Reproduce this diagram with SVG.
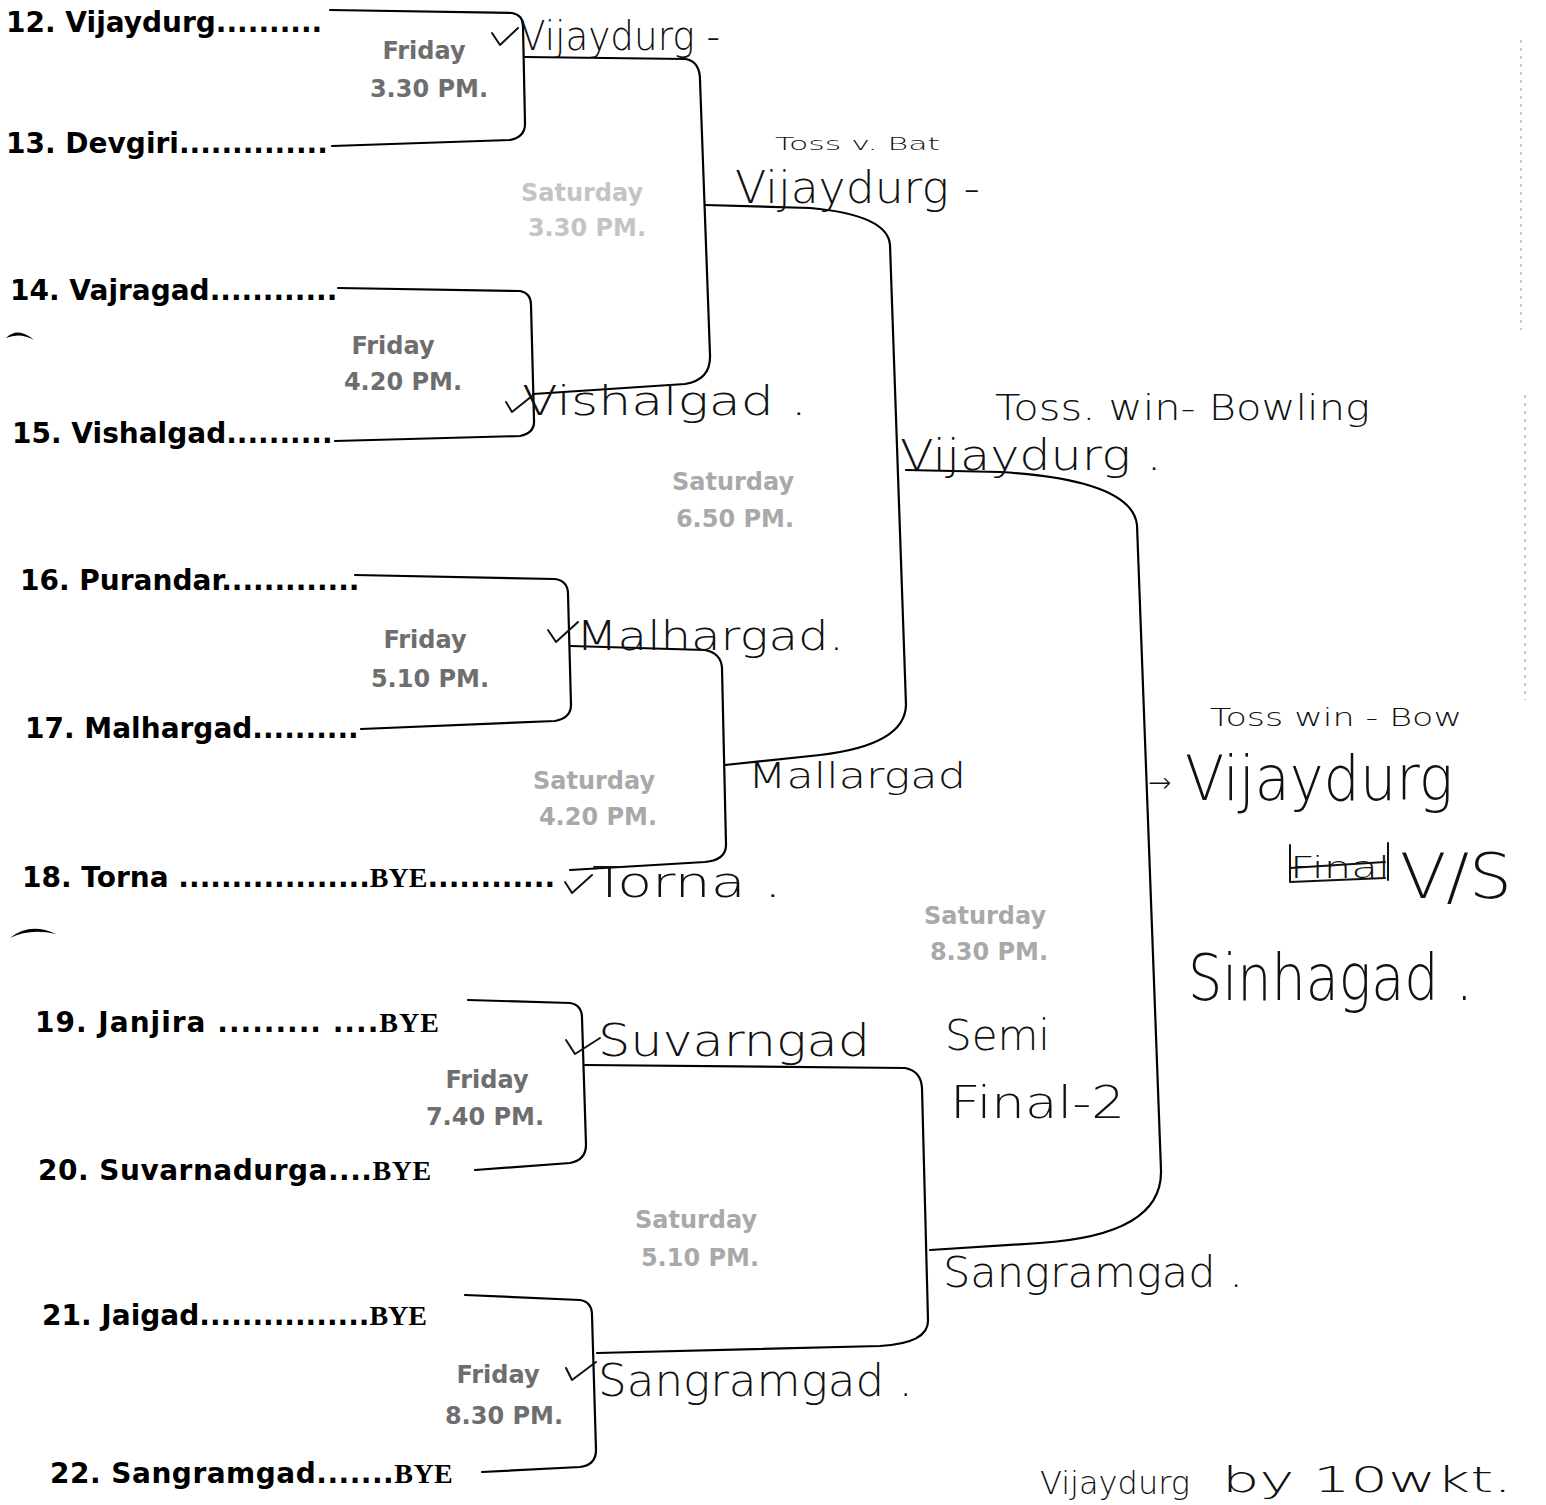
<svg xmlns="http://www.w3.org/2000/svg" width="1546" height="1505" viewBox="0 0 1546 1505">
<style>
.team{font-family:"DejaVu Sans","Liberation Sans",sans-serif;font-weight:bold;font-size:28px;fill:#000}
.bye{font-family:"Liberation Serif","DejaVu Serif",serif;font-weight:bold;font-size:28px}
.fri{font-family:"DejaVu Sans","Liberation Sans",sans-serif;font-weight:bold;font-size:24px;fill:#6e6e6e;text-anchor:middle}
.sat{font-family:"DejaVu Sans","Liberation Sans",sans-serif;font-weight:bold;font-size:24px;fill:#a9a9a9;text-anchor:middle}
.faint{fill:#c4c4c4}
.hw{font-family:"DejaVu Sans","Liberation Sans",sans-serif;font-weight:200;fill:#111}
.br{fill:none;stroke:#000;stroke-width:2.2;stroke-linecap:round;stroke-linejoin:round}
.tick{fill:none;stroke:#111;stroke-width:2;stroke-linecap:round;stroke-linejoin:round}
</style>
<rect width="1546" height="1505" fill="#fff"/>

<g id="connectors">
<path class="br" d="M330,10 L512,13 Q523,15 523,26 L525,124 Q525,137 510,140 L332,146"/>
<path class="br" d="M525,57 L686,59 Q700,62 700,80 L710,355 Q711,380 685,384 L533,394"/>
<path class="br" d="M338,288 L520,291 Q531,293 531,305 L534,420 Q535,433 520,436 L335,441"/>
<path class="br" d="M705,205 L810,208 Q888,215 890,245 L906,705 Q905,745 820,755 L725,765"/>
<path class="br" d="M355,575 L555,579 Q568,581 568,594 L571,705 Q571,718 555,721 L361,729"/>
<path class="br" d="M571,646 L705,650 Q721,653 722,668 L726,845 Q726,860 705,862 L570,870"/>
<path class="br" d="M906,470 L1000,472 Q1132,480 1137,525 L1161,1170 Q1163,1235 1040,1243 L930,1250"/>
<path class="br" d="M468,1000 L570,1003 Q582,1005 582,1018 L586,1145 Q586,1160 570,1163 L475,1170"/>
<path class="br" d="M585,1065 L905,1068 Q921,1071 922,1088 L928,1320 Q929,1343 880,1346 L597,1353"/>
<path class="br" d="M465,1295 L580,1300 Q592,1302 592,1315 L596,1450 Q596,1465 580,1467 L482,1472"/>
</g>

<g id="teams">
<g id="t12"><text class="team" x="6" y="32">12. Vijaydurg..........</text></g>
<g id="t13"><text class="team" x="6" y="153">13. Devgiri..............</text></g>
<g id="t14"><text class="team" x="10" y="300">14. Vajragad............</text></g>
<g id="t15"><text class="team" x="12" y="443">15. Vishalgad..........</text></g>
<g id="t16"><text class="team" x="20" y="590">16. Purandar.............</text></g>
<g id="t17"><text class="team" x="25" y="738">17. Malhargad..........</text></g>
<g id="t18"><text class="team" x="22" y="887">18. Torna ..................<tspan class="bye">BYE</tspan>............</text></g>
<g id="t19"><text class="team" x="35" y="1032" letter-spacing="1">19. Janjira ......... ....<tspan class="bye">BYE</tspan></text></g>
<g id="t20"><text class="team" x="38" y="1180" letter-spacing="0.5">20. Suvarnadurga....<tspan class="bye">BYE</tspan></text></g>
<g id="t21"><text class="team" x="42" y="1325">21. Jaigad................<tspan class="bye">BYE</tspan></text></g>
<g id="t22"><text class="team" x="50" y="1483" letter-spacing="0.5">22. Sangramgad.......<tspan class="bye">BYE</tspan></text></g>
</g>

<g id="matches">
<g id="m-fri-330"><text class="fri" x="424" y="59">Friday</text><text class="fri" x="429" y="97">3.30 PM.</text></g>
<g id="m-sat-330"><text class="sat faint" x="582" y="201">Saturday</text><text class="sat faint" x="587" y="236">3.30 PM.</text></g>
<g id="m-fri-420"><text class="fri" x="393" y="354">Friday</text><text class="fri" x="403" y="390">4.20 PM.</text></g>
<g id="m-sat-650"><text class="sat" x="733" y="490">Saturday</text><text class="sat" x="735" y="527">6.50 PM.</text></g>
<g id="m-fri-510"><text class="fri" x="425" y="648">Friday</text><text class="fri" x="430" y="687">5.10 PM.</text></g>
<g id="m-sat-420"><text class="sat" x="594" y="789">Saturday</text><text class="sat" x="598" y="825">4.20 PM.</text></g>
<g id="m-sat-830"><text class="sat" x="985" y="924">Saturday</text><text class="sat" x="989" y="960">8.30 PM.</text></g>
<g id="m-fri-740"><text class="fri" x="487" y="1088">Friday</text><text class="fri" x="485" y="1125">7.40 PM.</text></g>
<g id="m-sat-510"><text class="sat" x="696" y="1228">Saturday</text><text class="sat" x="700" y="1266">5.10 PM.</text></g>
<g id="m-fri-830"><text class="fri" x="498" y="1383">Friday</text><text class="fri" x="504" y="1424">8.30 PM.</text></g>
</g>

<g id="annotations">
<path class="tick" d="M492,33 L500,45 L518,28"/>
<text class="hw" x="520" y="50" font-size="40" textLength="200" lengthAdjust="spacingAndGlyphs">Vijaydurg -</text>
<text class="hw" x="775" y="150" font-size="18" textLength="165" lengthAdjust="spacingAndGlyphs">Toss v. Bat</text>
<text class="hw" x="735" y="203" font-size="44" textLength="245" lengthAdjust="spacingAndGlyphs">Vijaydurg -</text>
<path class="tick" d="M506,402 L512,412 L532,396"/>
<text class="hw" x="522" y="415" font-size="40" textLength="285" lengthAdjust="spacingAndGlyphs">Vishalgad .</text>
<text class="hw" x="995" y="420" font-size="36" textLength="375" lengthAdjust="spacingAndGlyphs">Toss. win- Bowling</text>
<text class="hw" x="900" y="470" font-size="42" textLength="262" lengthAdjust="spacingAndGlyphs">Vijaydurg .</text>
<path class="tick" d="M548,630 L556,642 L578,622"/>
<text class="hw" x="576" y="650" font-size="40" textLength="268" lengthAdjust="spacingAndGlyphs">Malhargad.</text>
<text class="hw" x="748" y="788" font-size="36" textLength="218" lengthAdjust="spacingAndGlyphs">Mallargad</text>
<path class="tick" d="M565,882 L572,893 L592,875"/>
<text class="hw" x="592" y="897" font-size="42" textLength="190" lengthAdjust="spacingAndGlyphs">Torna .</text>
<text class="hw" x="1210" y="726" font-size="24" textLength="252" lengthAdjust="spacingAndGlyphs">Toss win - Bow</text>
<text class="hw" x="1148" y="792" font-size="28">→</text>
<text class="hw" x="1185" y="800" font-size="62" textLength="268" lengthAdjust="spacingAndGlyphs">Vijaydurg</text>
<g id="struck">
<text class="hw" x="1290" y="878" font-size="30" textLength="100" lengthAdjust="spacingAndGlyphs">Final</text>
<path class="tick" d="M1290,845 L1290,882 M1290,868 L1385,862 M1290,882 L1385,878 M1388,843 L1388,880"/>
</g>
<text class="hw" x="1400" y="898" font-size="62" textLength="112" lengthAdjust="spacingAndGlyphs">V/S</text>
<text class="hw" x="1188" y="1000" font-size="64" textLength="285" lengthAdjust="spacingAndGlyphs">Sinhagad .</text>
<text class="hw" x="945" y="1050" font-size="42" textLength="105" lengthAdjust="spacingAndGlyphs">Semi</text>
<text class="hw" x="950" y="1118" font-size="44" textLength="175" lengthAdjust="spacingAndGlyphs">Final-2</text>
<path class="tick" d="M566,1040 L575,1054 L600,1038"/>
<text class="hw" x="598" y="1056" font-size="44" textLength="272" lengthAdjust="spacingAndGlyphs">Suvarngad</text>
<text class="hw" x="943" y="1287" font-size="42" textLength="300" lengthAdjust="spacingAndGlyphs">Sangramgad .</text>
<path class="tick" d="M566,1368 L572,1380 L596,1362"/>
<text class="hw" x="598" y="1396" font-size="44" textLength="315" lengthAdjust="spacingAndGlyphs">Sangramgad .</text>
<text class="hw" x="1040" y="1494" font-size="32" textLength="150" lengthAdjust="spacingAndGlyphs">Vijaydurg</text>
<text class="hw" x="1222" y="1492" font-size="36" textLength="290" lengthAdjust="spacingAndGlyphs">by 10wkt.</text>
</g>

<g id="marks">
<path d="M6,338 Q18,326 34,340 Q20,332 6,338 Z" fill="#000"/>
<path d="M10,938 Q30,922 56,934 Q30,928 10,938 Z" fill="#000"/>
<path d="M1521,40 L1521,330 M1525,395 L1525,700" stroke="#bbb" stroke-width="1.5" stroke-dasharray="3,5" fill="none"/>
</g>
</svg>
